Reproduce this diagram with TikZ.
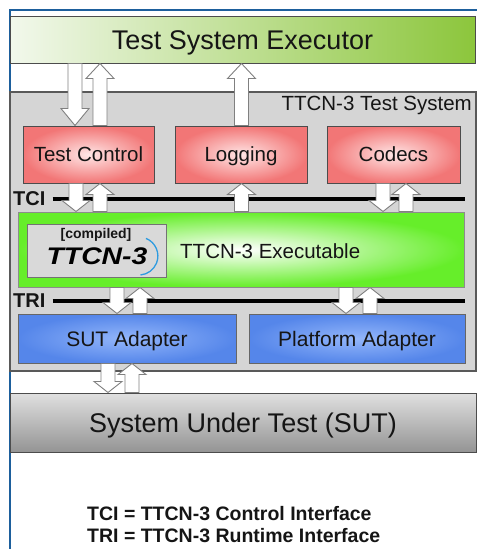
\documentclass[tikz,border=0pt]{standalone}
\usepackage{fontspec}
\setmainfont{Liberation Sans}
\usetikzlibrary{calc}
\definecolor{frameblue}{HTML}{1D5F9C}
\definecolor{execL}{HTML}{F2F8EC}
\definecolor{execR}{HTML}{8CC63C}
\definecolor{redIn}{HTML}{FFE6E6}
\definecolor{redOut}{HTML}{F27676}
\definecolor{greenOut}{HTML}{66EE2A}
\definecolor{blueIn}{HTML}{93B6FA}
\definecolor{blueOut}{HTML}{5586EA}
\definecolor{sysgray}{HTML}{D5D5D5}
\definecolor{logoblue}{HTML}{2E9BE0}
\definecolor{txt}{HTML}{151515}
\newcommand\DnArr[4]{%
  \draw[barrow] let \p1=(#2), \p2=(#3) in
    (#1pt-7pt,\y1) -- (#1pt+7pt,\y1) -- (#1pt+7pt,\y2+#4pt) -- (#1pt+14pt,\y2+#4pt)
    -- (#1pt,\y2) -- (#1pt-14pt,\y2+#4pt) -- (#1pt-7pt,\y2+#4pt) -- cycle;}
\newcommand\UpArr[4]{%
  \draw[barrow] let \p1=(#2), \p2=(#3) in
    (#1pt-7pt,\y1) -- (#1pt+7pt,\y1) -- (#1pt+7pt,\y2-#4pt) -- (#1pt+14pt,\y2-#4pt)
    -- (#1pt,\y2) -- (#1pt-14pt,\y2-#4pt) -- (#1pt-7pt,\y2-#4pt) -- cycle;}
\tikzset{
  box/.style={draw=black!70, line width=1pt, inner sep=0pt, text=txt,
    font=\fontsize{20.5}{24}\selectfont, text height=14.7pt, text depth=0pt},
  execbox/.style={box, left color=execL, right color=execR,
    font=\fontsize{27}{30}\selectfont, text height=19.3pt},
  sysbox/.style={box, fill=sysgray, draw=black!65, line width=1.3pt},
  redbox/.style={box, inner color=redIn, outer color=redOut},
  greenbox/.style={box, draw=black!45, inner color=white, outer color=greenOut},
  bluebox/.style={box, draw=black!60, inner color=blueIn, outer color=blueOut,
    font=\fontsize{21}{24}\selectfont, text height=15pt},
  sutbox/.style={box, top color=black!12, middle color=black!3, bottom color=black!42,
    font=\fontsize{27}{30}\selectfont, text height=19.3pt},
  logobox/.style={box, draw=black!55, line width=0.8pt, fill=black!15},
  barrow/.style={draw=black!50, line width=0.9pt, fill=white, line join=miter},
  bus/.style={line width=4pt, black},
  buslabel/.style={inner sep=0pt, anchor=west, text=txt,
    font=\fontsize{20}{22}\selectfont\bfseries},
  legend/.style={inner sep=0pt, anchor=base west, text=txt,
    font=\fontsize{19.5}{22}\selectfont\bfseries},
}
\begin{document}
\begin{tikzpicture}[x=1pt,y=-1pt]
\useasboundingbox (0,0) rectangle (477,549);
\fill[white] (0,0) rectangle (477,549);
% frame
\coordinate (fTL) at (10,10);
\coordinate (fTR) at (477,10);
\coordinate (fBL) at (10,549);
\draw[frameblue, line width=2pt] (fBL) -- (fTL) -- (fTR);
% boxes
\node[sysbox, minimum width=466, minimum height=279] (sys) at (243,231.5) {};
\node[anchor=east, inner sep=0pt, text=txt, font=\fontsize{20.5}{24}\selectfont] (syslbl) at (472,105) {TTCN-3 Test System};
\node[execbox, minimum width=465, minimum height=47] (exec) at (242.5,39.5) {Test System Executor};
\node[redbox, minimum width=131, minimum height=57] (tc) at (88.5,154.5) {Test Control};
\node[redbox, minimum width=132, minimum height=57] (log) at (241,154.5) {Logging};
\node[redbox, minimum width=133, minimum height=57] (cod) at (393.5,154.5) {Codecs};
\node[greenbox, minimum width=446, minimum height=75] (exe) at (241,249.5) {};
\node[logobox, minimum width=139, minimum height=53] (logo) at (96.5,250.5) {};
\node[inner sep=0pt, text=txt, font=\fontsize{14}{16}\selectfont\bfseries] (comp) at (96,234.5) {[compiled]};
\node[inner sep=0pt, text=black, font=\fontsize{24}{26}\selectfont\bfseries\itshape] (ttcn) at (97,256) {\scalebox{1.18}[1]{TTCN-3}};
\draw[logoblue, line width=1.3pt] (146,238.4) arc[start angle=-68, end angle=85, radius=19];
\node[anchor=west, inner sep=0pt, text=txt, font=\fontsize{20.5}{24}\selectfont] (exelbl) at (180,251) {TTCN-3 Executable};
\node[bluebox, minimum width=218, minimum height=49] (sa) at (127,338.5) {SUT Adapter};
\node[bluebox, minimum width=216, minimum height=49] (pa) at (357,338.5) {Platform Adapter};
\node[sutbox, minimum width=466, minimum height=59] (sut) at (243,422.5) {System Under Test (SUT)};
% interface buses
\node[buslabel] (tci) at (13,199) {TCI};
\coordinate (tciend) at (465,199);
\draw[bus] ([xshift=7pt]tci.east) -- (tciend);
\node[buslabel] (tri) at (13,301) {TRI};
\coordinate (triend) at (465,301);
\draw[bus] ([xshift=7pt]tri.east) -- (triend);
% arrows executor <-> components
\DnArr{75}{exec.south}{tc.north}{17}
\UpArr{100}{tc.north}{exec.south}{15}
\UpArr{241.5}{log.north}{exec.south}{15}
% components <-> executable (TCI)
\DnArr{76}{tc.south}{exe.north}{11}
\UpArr{100}{exe.north}{tc.south}{11}
\UpArr{241.5}{exe.north}{log.south}{11}
\DnArr{383}{cod.south}{exe.north}{11}
\UpArr{406}{exe.north}{cod.south}{11}
% executable <-> adapters (TRI)
\DnArr{117}{exe.south}{sa.north}{11}
\UpArr{140}{sa.north}{exe.south}{11}
\DnArr{346}{exe.south}{pa.north}{11}
\UpArr{370}{pa.north}{exe.south}{11}
% adapter <-> SUT
\DnArr{108}{sa.south}{sut.north}{11}
\UpArr{132}{sut.north}{sa.south}{11}
% legend
\node[legend] (leg1) at (87,520) {TCI = TTCN-3 Control Interface};
\node[legend] (leg2) at (87,542) {TRI = TTCN-3 Runtime Interface};
\end{tikzpicture}
\end{document}
